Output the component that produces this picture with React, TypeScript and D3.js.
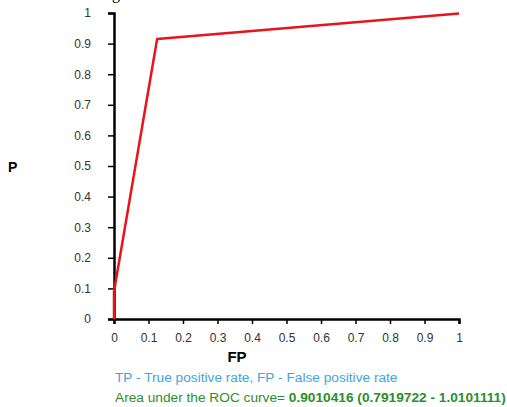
import { useRef, useEffect } from "react";
import * as d3 from "d3";

// ROC curve points
const fpRate = [0, 0, 0.125, 1];
const tpRate = [0, 0.09, 0.915, 0.998];
const tickValues = [0, 0.1, 0.2, 0.3, 0.4, 0.5, 0.6, 0.7, 0.8, 0.9, 1];
const legendText = "TP - True positive rate, FP - False positive rate";
const aucLabel = "Area under the ROC curve= ";
const aucValue = "0.9010416 (0.7919722 - 1.0101111)";

export default function App() {
  const svgRef = useRef<SVGSVGElement>(null);

  useEffect(() => {
    const w = 507;
    const h = 407;
    const svg = d3.select(svgRef.current).attr("width", w).attr("height", h);
    svg.selectAll("*").remove();

    const x = d3.scaleLinear().domain([0, 1]).range([114, 459]);
    const y = d3.scaleLinear().domain([0, 1]).range([319, 13]);

    const font = "'Liberation Sans', Arial, sans-serif";

    // cropped glyph at the top edge
    svg
      .append("text")
      .attr("x", 112)
      .attr("y", -1)
      .attr("font-family", "'Liberation Serif', serif")
      .attr("font-size", 16)
      .text("g");

    // y axis
    const yAxis = svg
      .append("g")
      .attr("transform", `translate(${x(0)},0)`)
      .call(
        d3
          .axisLeft(y)
          .tickValues(tickValues)
          .tickFormat((d) => d3.format("~g")(d as number))
          .tickSize(6)
          .tickPadding(17)
      );
    yAxis.select(".domain").attr("stroke", "#000").attr("stroke-width", 2.5);
    yAxis.selectAll("line").attr("stroke", "#000").attr("stroke-width", 1.5);
    yAxis
      .selectAll("text")
      .attr("font-family", font)
      .attr("font-size", 12)
      .attr("fill", "#333");

    // x axis
    const xAxis = svg
      .append("g")
      .attr("transform", `translate(0,${y(0)})`)
      .call(
        d3
          .axisBottom(x)
          .tickValues(tickValues)
          .tickFormat((d) => d3.format("~g")(d as number))
          .tickSize(5)
          .tickPadding(9)
      );
    xAxis.select(".domain").attr("stroke", "#000").attr("stroke-width", 2.5);
    xAxis.selectAll("line").attr("stroke", "#000").attr("stroke-width", 1.5);
    xAxis
      .selectAll("text")
      .attr("font-family", font)
      .attr("font-size", 12)
      .attr("fill", "#333");

    // ROC curve
    const pts = fpRate.map((v, i) => [v, tpRate[i]] as [number, number]);
    const line = d3
      .line<[number, number]>()
      .x((d) => x(d[0]))
      .y((d) => y(d[1]));
    svg
      .append("path")
      .datum(pts)
      .attr("d", line)
      .attr("fill", "none")
      .attr("stroke", "#e8141c")
      .attr("stroke-width", 2.5)
      .attr("stroke-linejoin", "round");

    // axis titles
    svg
      .append("text")
      .attr("x", 237)
      .attr("y", 362)
      .attr("text-anchor", "middle")
      .attr("font-family", font)
      .attr("font-weight", "bold")
      .attr("font-size", 15)
      .text("FP");
    svg
      .append("text")
      .attr("x", 8)
      .attr("y", 172)
      .attr("font-family", font)
      .attr("font-weight", "bold")
      .attr("font-size", 14)
      .text("P");

    // legend notes
    svg
      .append("text")
      .attr("x", 115)
      .attr("y", 382)
      .attr("font-family", font)
      .attr("font-size", 13.7)
      .attr("fill", "#3ea6dc")
      .text(legendText);
    const auc = svg
      .append("text")
      .attr("x", 115)
      .attr("y", 402)
      .attr("font-family", font)
      .attr("font-size", 13.7)
      .attr("fill", "#2a8f2a");
    auc.append("tspan").text(aucLabel);
    auc.append("tspan").attr("font-weight", "bold").text(aucValue);
  }, []);

  return (
    <svg
      ref={svgRef}
      style={{ position: "absolute", left: 0, top: 0, overflow: "visible" }}
    ></svg>
  );
}
